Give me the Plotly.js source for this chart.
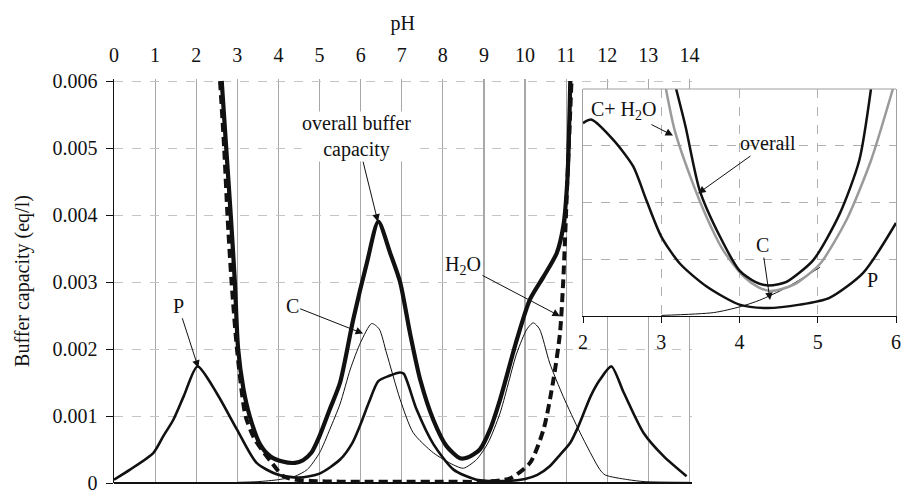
<!DOCTYPE html>
<html><head><meta charset="utf-8">
<script src="https://cdn.plot.ly/plotly-3.0.1.min.js"></script>
<style>html,body{margin:0;padding:0;background:#fff}#chart{width:902px;height:490px}</style>
</head><body><div id="chart"></div>
<script>
// ---- main chart data (pH, buffer capacity eq/l) ----
const phOverall = [2.62, 2.73, 2.84, 2.94, 3.02, 3.15, 3.3, 3.55, 3.8, 4.1, 4.4, 4.6, 4.8, 5.0, 5.25, 5.5, 5.82, 6.15, 6.43, 6.72, 6.96, 7.2, 7.45, 7.77, 8.09, 8.42, 8.6, 8.9, 9.15, 9.39, 9.8, 10.12, 10.45, 10.77, 10.93, 11.03, 11.1];
const overall   = [0.006, 0.005, 0.004, 0.003, 0.002, 0.0014, 0.001, 0.00058, 0.0004, 0.00032, 0.0003, 0.00034, 0.00045, 0.0007, 0.0011, 0.0015, 0.00244, 0.00328, 0.0039, 0.00343, 0.003, 0.00224, 0.00154, 0.00094, 0.00055, 0.00037, 0.00038, 0.0005, 0.0008, 0.00124, 0.00214, 0.00274, 0.00308, 0.00343, 0.00383, 0.00453, 0.006];

const phWater = [2.58, 2.68, 2.76, 2.86, 3.0, 3.2, 3.4, 3.59, 3.84, 4.12, 4.4, 4.8, 5.5, 6, 7, 8, 9.0, 9.64, 10.12, 10.45, 10.69, 10.85, 10.93, 11.03, 11.13];
const water   = [0.006, 0.005, 0.004, 0.003, 0.00195, 0.001, 0.00068, 0.0005, 0.0003, 0.0001, 0.00005, 0.00003, 0.00002, 0.00002, 0.00002, 0.00002, 0.00002, 0.00007, 0.0003, 0.0008, 0.00154, 0.00224, 0.00303, 0.00453, 0.006];

const phC = [3.0, 3.5, 4.0, 4.4, 4.7, 5.0, 5.25, 5.5, 5.75, 6.0, 6.27, 6.45, 6.63, 6.96, 7.28, 7.77, 8.26, 8.5, 8.82, 9.1, 9.39, 9.8, 10.05, 10.2, 10.35, 10.6, 10.93, 11.34, 11.82, 11.95, 12.5, 12.92, 14];
const carb = [0.00001, 0.00002, 0.00005, 0.0001, 0.0002, 0.00045, 0.0008, 0.00118, 0.0017, 0.0021, 0.00238, 0.0023, 0.00194, 0.00125, 0.00075, 0.00045, 0.00027, 0.00022, 0.00035, 0.0006, 0.00104, 0.00194, 0.0023, 0.00239, 0.0023, 0.00179, 0.00129, 0.00075, 0.0002, 0.00012, 0.00005, 0.00002, 0.00001];

const phP = [0, 0.39, 0.96, 1.2, 1.44, 1.7, 2.03, 2.5, 2.99, 3.47, 3.96, 4.5, 5.0, 5.5, 5.8, 6.0, 6.2, 6.43, 6.7, 6.96, 7.05, 7.36, 7.77, 8.26, 8.82, 9.5, 10.0, 10.3, 10.6, 10.85, 11.1, 11.3, 11.6, 11.82, 12.1, 12.4, 12.88, 13.37, 13.93];
const phos = [0.00005, 0.0002, 0.00045, 0.0007, 0.00094, 0.0013, 0.00174, 0.00134, 0.0008, 0.0003, 0.00013, 0.00008, 0.00014, 0.00035, 0.0006, 0.00088, 0.0012, 0.00152, 0.0016, 0.00165, 0.00163, 0.0011, 0.00058, 0.0002, 0.00005, 0.00003, 0.00006, 0.00012, 0.00025, 0.00042, 0.0006, 0.00085, 0.0013, 0.00154, 0.00174, 0.00135, 0.00075, 0.0004, 0.0001];

// ---- inset data (pH 2-6) ----
const inPhOverall = [3.19, 3.31, 3.49, 3.75, 4.0, 4.2, 4.35, 4.5, 4.6, 4.94, 5.28, 5.53, 5.68];
const inOverall   = [0.002, 0.00167, 0.00111, 0.0007, 0.0004, 0.0003, 0.00027, 0.00028, 0.0003, 0.00049, 0.0009, 0.00137, 0.002];
const inPhCW = [3.06, 3.17, 3.37, 3.58, 3.79, 4.05, 4.25, 4.39, 4.55, 4.73, 5.03, 5.37, 5.68, 5.96];
const inCW   = [0.002, 0.00164, 0.00123, 0.00087, 0.00058, 0.00035, 0.00025, 0.00022, 0.00024, 0.00029, 0.00046, 0.00085, 0.00137, 0.002];
const inPhC = [3.0, 3.67, 4.0, 4.26, 4.6, 5.03];
const inC   = [0.000005, 0.00003, 0.00008, 0.00014, 0.00025, 0.00043];
const inPhP = [2.0, 2.11, 2.39, 2.64, 2.81, 3.0, 3.24, 3.58, 4.0, 4.35, 4.77, 5.15, 5.58, 6.0];
const inP   = [0.0017, 0.00173, 0.00155, 0.00132, 0.00102, 0.0007, 0.00046, 0.00026, 0.0001, 0.00007, 0.0001, 0.00016, 0.00038, 0.00082];

// ---- tick labels ----
const phTicks = [0,1,2,3,4,5,6,7,8,9,10,11,12,13,14];
const yTickVals = [0, 0.001, 0.002, 0.003, 0.004, 0.005, 0.006];
const yTickText = ['0', '0.001', '0.002', '0.003', '0.004', '0.005', '0.006'];
const inTicks = [2,3,4,5,6];

const FONT = 'Liberation Serif, Times New Roman, serif';
const INK = '#111';

function line(x, y, w, opts) {
  return {
    x: x, y: y, type: 'scatter', mode: 'lines', hoverinfo: 'skip', showlegend: false,
    line: Object.assign({color: INK, width: w, shape: 'spline', smoothing: 0.7}, opts || {})
  };
}

const traces = [
  line(phP, phos, 2.6),
  line(phC, carb, 1),
  line(phWater, water, 4, {dash: '9px,5px'}),
  line(phOverall, overall, 4.2),
  Object.assign(line(inPhP, inP, 2.5), {xaxis: 'x3', yaxis: 'y3'}),
  Object.assign(line(inPhC, inC, 1), {xaxis: 'x3', yaxis: 'y3'}),
  Object.assign(line(inPhCW, inCW, 2.5, {color: '#9a9a9a'}), {xaxis: 'x3', yaxis: 'y3'}),
  Object.assign(line(inPhOverall, inOverall, 2.5), {xaxis: 'x3', yaxis: 'y3'})
];

const ann = (o) => Object.assign({
  showarrow: true, arrowhead: 2, arrowsize: 1.5, arrowwidth: 1, arrowcolor: INK,
  font: {family: FONT, size: 20, color: INK}
}, o);

const layout = {
  width: 902, height: 490,
  margin: {l: 114, r: 0, t: 79, b: 7},
  paper_bgcolor: '#fff', plot_bgcolor: '#fff',
  font: {family: FONT, size: 20, color: INK},
  xaxis: {
    domain: [0, 0.7329], range: [0, 14.05], side: 'top', anchor: 'y',
    tickvals: phTicks, ticktext: phTicks.map(String), ticks: '', ticklabelstandoff: 12,
    ticklabeloverflow: 'allow',
    showgrid: true, gridcolor: '#a8a8a8', gridwidth: 1.2, zeroline: false, showline: false,
    title: {text: 'pH', standoff: 8, font: {family: FONT, size: 20, color: INK}},
    tickfont: {family: FONT, size: 20, color: INK}
  },
  yaxis: {
    domain: [0, 1], range: [0, 0.00603], anchor: 'x',
    tickvals: yTickVals, ticktext: yTickText, ticks: 'outside', ticklen: 7, tickwidth: 1, tickcolor: INK,
    ticklabelstandoff: 4, ticklabeloverflow: 'allow',
    showgrid: true, gridcolor: '#c4c4c4', griddash: 'dash', gridwidth: 1,
    showline: true, linecolor: INK, linewidth: 1.5,
    zeroline: true, zerolinecolor: INK, zerolinewidth: 1.5,
    title: {text: 'Buffer capacity (eq/l)', standoff: 17, font: {family: FONT, size: 20, color: INK}},
    tickfont: {family: FONT, size: 20, color: INK}
  },
  // white cover behind inset
  xaxis2: {domain: [0.5914, 1], range: [0, 1], anchor: 'y2', showgrid: false, zeroline: false, showline: false, showticklabels: false, ticks: ''},
  yaxis2: {domain: [0.3168, 1], range: [0, 1], anchor: 'x2', showgrid: false, zeroline: false, showline: false, showticklabels: false, ticks: ''},
  // inset
  xaxis3: {
    domain: [0.5952, 0.9924], range: [2, 6], anchor: 'y3',
    tickvals: inTicks, ticktext: inTicks.map(String), ticks: 'outside', ticklen: 6, tickcolor: INK,
    ticklabeloverflow: 'allow',
    showgrid: true, gridcolor: '#b0b0b0', griddash: 'dash', gridwidth: 1,
    showline: true, linecolor: INK, linewidth: 1.5, zeroline: false,
    tickfont: {family: FONT, size: 20, color: INK}, ticklabelstandoff: 2
  },
  yaxis3: {
    domain: [0.4134, 0.9752], range: [0, 0.002], anchor: 'x3', dtick: 0.0005,
    showticklabels: false, ticks: '',
    showgrid: true, gridcolor: '#b0b0b0', griddash: 'dash', gridwidth: 1,
    showline: true, mirror: true, linecolor: '#a0a0a0', linewidth: 1.2, zeroline: false
  },
  shapes: [
    {type: 'line', xref: 'x3 domain', yref: 'y3 domain', x0: 0, x1: 1, y0: 1, y1: 1, line: {color: '#a0a0a0', width: 1.2}}
  ],
  annotations: [
    ann({x: 2.05, y: 0.00172, xref: 'x', yref: 'y', text: 'P', ax: -20, ay: -62}),
    ann({x: 6.06, y: 0.00223, xref: 'x', yref: 'y', text: 'C', ax: -71, ay: -28}),
    ann({x: 6.42, y: 0.0039, xref: 'x', yref: 'y', text: 'overall buffer<br>capacity', ax: -21, ay: -85, bgcolor: '#fff', borderpad: 0}),
    ann({x: 10.85, y: 0.00249, xref: 'x', yref: 'y', text: 'H<sub>2</sub>O', ax: -97, ay: -51}),
    ann({x: 3.15, y: 0.00159, xref: 'x3', yref: 'y3', text: 'C+ H<sub>2</sub>O', ax: -49, ay: -25}),
    ann({x: 3.47, y: 0.00108, xref: 'x3', yref: 'y3', text: 'overall', ax: 70, ay: -50}),
    ann({x: 4.39, y: 0.00014, xref: 'x3', yref: 'y3', text: 'C', ax: -8, ay: -55}),
    ann({x: 5.70, y: 0.000317, xref: 'x3', yref: 'y3', text: 'P', showarrow: false})
  ]
};

Plotly.newPlot('chart', traces, layout, {staticPlot: true, displayModeBar: false});
</script>
</body></html>
